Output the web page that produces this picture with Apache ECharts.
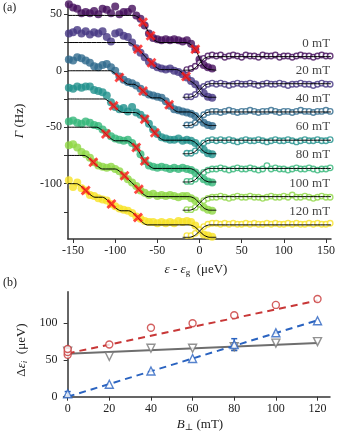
<!DOCTYPE html>
<html>
<head>
<meta charset="utf-8">
<script src="https://cdn.jsdelivr.net/npm/echarts@6/dist/echarts.min.js"></script>
<style>
html,body{margin:0;padding:0;background:#fff;}
#c{width:339px;height:433px;}
</style>
</head>
<body>
<div id="c"></div>
<script>
// ---------- Panel (a) data ----------
const fieldLabels = ['0 mT','20 mT','40 mT','60 mT','80 mT','100 mT','120 mT'];
const traceColors = ['#450f5c','#463783','#2f6a8d','#21918c','#35b779','#8fd744','#f7e225'];

const epsFilled = [-155,-150,-145,-140,-135,-130,-125,-120,-115,-110,-105,-100,-95,-90,-85,-80,-75,-70,-65,-60,-55,-50,-45,-40,-35,-30,-25,-20,-15,-10,-5,0,5,10,15];
const epsOpen = [-15,-10,-5,0,5,10,15,20,25,30,35,40,45,50,55,60,65,70,75,80,85,90,95,100,105,110,115,120,125,130,135,140,145,150,155];

const filled_0mT = [59,56,55,51,52,51,53,50,55,54,51,57,50,52,52,55,49,46,40,33,29,28,27,28,27,28,27,26,27,24,19,10,5,3,2];
const filled_20mT = [33,34,36,33,35,32,34,33,35,30,26,33,34,31,30,25,20,16,12,8,5,3,2,1,2,0,-1,-3,-6,-9,-12,-16,-20,-23,-24];
const filled_40mT = [10,9,12,11,9,7,4,3,5,6,3,0,-5,-8,-10,-11,-13,-16,-19,-21,-22,-23,-24,-27,-31,-34,-35,-36,-37,-38,-40,-43,-46,-48,-49];
const filled_60mT = [-15,-16,-14,-15,-14,-14,-17,-18,-19,-22,-28,-32,-34,-33,-36,-32,-37,-39,-42,-47,-52,-56,-59,-60,-61,-61,-60,-62,-61,-62,-64,-67,-70,-73,-74];
const filled_80mT = [-45,-44,-46,-47,-45,-46,-48,-49,-52,-55,-58,-60,-61,-62,-61,-64,-68,-74,-80,-84,-85,-86,-85,-86,-87,-86,-87,-86,-87,-88,-90,-93,-96,-98,-99];
const filled_100mT = [-66,-65,-68,-72,-74,-77,-81,-84,-85,-86,-85,-87,-89,-93,-96,-99,-102,-106,-108,-110,-109,-111,-110,-111,-110,-111,-112,-111,-111,-113,-115,-118,-121,-123,-124];
const filled_120mT = [-97,-103,-99,-104,-106,-110,-111,-113,-114,-115,-118,-120,-122,-123,-124,-126,-129,-131,-133,-134,-134,-135,-134,-135,-134,-135,-133,-134,-133,-134,-137,-141,-145,-146,-147];

const open_0mT = [1,2,4,7,11,13,14,13,14,12,13,14,13,12,14,13,13,12,14,13,13,14,12,13,13,12,13,14,13,13,12,13,14,13,13];
const open_20mT = [-23,-23,-21,-18,-14,-12,-11,-12,-11,-12,-13,-12,-11,-12,-12,-11,-12,-13,-12,-11,-12,-12,-11,-12,-13,-12,-12,-11,-12,-12,-13,-12,-11,-12,-12];
const open_40mT = [-48,-48,-46,-43,-39,-37,-36,-36,-37,-36,-35,-36,-37,-36,-36,-35,-36,-37,-36,-36,-35,-36,-37,-36,-36,-37,-36,-35,-36,-36,-37,-36,-36,-35,-36];
const open_60mT = [-73,-73,-71,-68,-64,-62,-61,-62,-61,-62,-61,-62,-63,-62,-61,-62,-62,-61,-62,-63,-62,-61,-62,-62,-61,-62,-63,-62,-61,-62,-62,-61,-62,-62,-61];
const open_80mT = [-98,-98,-96,-93,-90,-88,-87,-87,-86,-87,-88,-87,-86,-87,-87,-86,-87,-88,-87,-84,-87,-86,-87,-87,-88,-87,-86,-87,-87,-86,-87,-88,-87,-87,-86];
const open_100mT = [-123,-123,-121,-118,-115,-113,-112,-112,-111,-112,-113,-112,-111,-112,-112,-111,-112,-112,-113,-112,-111,-112,-112,-111,-112,-110,-112,-112,-111,-112,-113,-112,-111,-112,-112];
const open_120mT = [-146,-146,-144,-141,-138,-136,-135,-135,-136,-135,-136,-135,-136,-136,-135,-136,-135,-136,-136,-135,-136,-135,-136,-136,-135,-136,-135,-136,-136,-135,-136,-135,-136,-136,-135];

const fitFilled_0mT = [[-156,49],[-78,49],[-72,47],[-67,43],[-62.5,37],[-58,31],[-53,27],[-47,25],[-16,25],[-10,23],[-5,19],[-2,14.5],[0,11],[3,6.5],[6,3.5],[10,1.5],[20,0.5]];
const fitOpen_0mT = [[-20,0.5],[-12,0.5],[-6,2],[-3,4],[0,6.5],[3,9],[6,11],[12,12.5],[156,12.5]];
const fitFilled_20mT = [[-156,25],[-84,25],[-78,22.5],[-73,19],[-68,15.5],[-65,13],[-62,10.5],[-57,7],[-52,3.5],[-46,1],[-27,1],[-21,-1.5],[-16,-5.25],[-11,-9],[-6,-11.5],[-3,-14],[0,-17.5],[3,-20.5],[6,-22.5],[12,-23.5],[20,-23.5]];
const fitOpen_20mT = [[-20,-23.5],[-12,-23.5],[-6,-22],[-3,-20],[0,-17.5],[3,-15],[6,-13],[12,-11.5],[156,-11.5]];
const fitFilled_40mT = [[-156,0],[-106,0],[-100,-2.5],[-95,-6],[-90,-9.5],[-84,-12],[-78,-12],[-72,-14.5],[-67,-18],[-62,-21.5],[-56,-24],[-47,-24],[-41,-26.5],[-36,-30.25],[-31,-34],[-25,-36.5],[-12,-36.5],[-6,-38],[-3,-40],[0,-42.5],[3,-45],[6,-47],[12,-48.5],[20,-48.5]];
const fitOpen_40mT = [[-20,-48.5],[-12,-48.5],[-6,-47],[-3,-45],[0,-42.5],[3,-40],[6,-38],[12,-36.5],[156,-36.5]];
const fitFilled_60mT = [[-156,-25],[-113,-25],[-107,-27.5],[-102,-31],[-97,-34.5],[-91,-37],[-76,-37],[-70,-39.5],[-65,-43],[-59,-49],[-53,-55.25],[-48,-59],[-42,-61.5],[-12,-61.5],[-6,-63],[-3,-65],[0,-67.5],[3,-70],[6,-72],[12,-73.5],[20,-73.5]];
const fitOpen_60mT = [[-20,-73.5],[-12,-73.5],[-6,-72],[-3,-70],[0,-67.5],[3,-65],[6,-63],[12,-61.5],[156,-61.5]];
const fitFilled_80mT = [[-156,-50],[-122,-50],[-116,-52.5],[-111,-56],[-106,-59.5],[-100,-62],[-86,-62],[-80,-64.5],[-75,-68],[-70,-74],[-65,-80.25],[-60,-84],[-54,-86.5],[-12,-86.5],[-6,-88],[-3,-90],[0,-92.5],[3,-95],[6,-97],[12,-98.5],[20,-98.5]];
const fitOpen_80mT = [[-20,-98.5],[-12,-98.5],[-6,-97],[-3,-95],[0,-92.5],[3,-90],[6,-88],[12,-86.5],[156,-86.5]];
const fitFilled_100mT = [[-156,-75],[-137,-75],[-131,-77.5],[-126,-81],[-121,-84.5],[-115,-87],[-100,-87],[-94,-89.5],[-89,-93],[-84,-96.5],[-80.5,-99],[-77,-101.5],[-72,-105.25],[-67,-109],[-61,-111.5],[-12,-111.5],[-6,-113],[-3,-115],[0,-117.5],[3,-120],[6,-122],[12,-123.5],[20,-123.5]];
const fitOpen_100mT = [[-20,-123.5],[-12,-123.5],[-6,-122],[-3,-120],[0,-117.5],[3,-115],[6,-113],[12,-111.5],[156,-111.5]];
const fitFilled_120mT = [[-156,-100],[-146,-100],[-140,-102.5],[-135,-106],[-130,-109.5],[-124,-112],[-115,-112],[-109.5,-114.5],[-104.5,-118],[-99.5,-121.5],[-93,-124],[-84,-124],[-78,-126.5],[-73,-130.25],[-68,-134],[-62,-136.5],[-12,-136.5],[-6,-138],[-3,-139.8],[0,-142],[3,-144.2],[6,-146],[12,-147.5],[20,-147.5]];
const fitOpen_120mT = [[-20,-147.5],[-12,-147.5],[-6,-146],[-3,-144.2],[0,-142],[3,-139.8],[6,-138],[12,-136.5],[156,-136.5]];

const crosses_0mT = [[-67,43],[-58,31],[-5,19]];
const crosses_20mT = [[-73,19],[-57,7],[-16,-5]];
const crosses_40mT = [[-95,-6],[-67,-18],[-36,-30]];
const crosses_60mT = [[-102,-31],[-65,-43],[-53,-55]];
const crosses_80mT = [[-111,-56],[-75,-68],[-65,-80]];
const crosses_100mT = [[-126,-81],[-89,-93],[-72,-105]];
const crosses_120mT = [[-135,-106],[-104.5,-118],[-73,-130]];

const xTicksA = [-150,-100,-50,0,50,100,150];
const yTicksA = [-125,-100,-75,-50,-25,0,25,50];
const yLabelsA = [-100,-50,0,50];

// ---------- Panel (b) data ----------
const fieldB = [0,20,40,60,80,100,120];
const xTicksB = [0,20,40,60,80,100,120];
const yTicksB = [0,50,100];
const red_field = [0,0,0,20,40,60,80,100,120];
const red_vals = [57,61,65,71,94,100,111,125,133];
const blue_vals = [4,17,35,52,71,87,103.5];
const gray_vals = [62,55,66,66,68,73,75];
const redFit = [[0,59],[120,131]];
const blueFit = [[0,0],[120,104]];
const grayFit = [[0,58.5],[120,73]];
const blueErr = [[80,71,8],[0,4,3]];
const grayErr = [[80,68,5],[0,62,4]];

// ---------- build ----------
const FONT = '"Liberation Serif", "DejaVu Serif", serif';
const filledAll = [filled_0mT,filled_20mT,filled_40mT,filled_60mT,filled_80mT,filled_100mT,filled_120mT];
const openAll = [open_0mT,open_20mT,open_40mT,open_60mT,open_80mT,open_100mT,open_120mT];
const fitFAll = [fitFilled_0mT,fitFilled_20mT,fitFilled_40mT,fitFilled_60mT,fitFilled_80mT,fitFilled_100mT,fitFilled_120mT];
const fitOAll = [fitOpen_0mT,fitOpen_20mT,fitOpen_40mT,fitOpen_60mT,fitOpen_80mT,fitOpen_100mT,fitOpen_120mT];
const crossAll = [crosses_0mT,crosses_20mT,crosses_40mT,crosses_60mT,crosses_80mT,crosses_100mT,crosses_120mT];

const crossPath = 'path://M2,0L5,3L8,0L10,2L7,5L10,8L8,10L5,7L2,10L0,8L3,5L0,2Z';
const series = [];
for (let i = 0; i < 7; i++) {
  series.push({type:'scatter', xAxisIndex:0, yAxisIndex:0, symbol:'circle', symbolSize:8,
    itemStyle:{color:traceColors[i]}, data: epsFilled.map((e,k)=>[e, filledAll[i][k]]), z:2, silent:true});
  series.push({type:'scatter', xAxisIndex:0, yAxisIndex:0, symbol:'circle', symbolSize:5.5,
    itemStyle:{color:'#fff', borderColor:traceColors[i], borderWidth:1.4}, data: epsOpen.map((e,k)=>[e, openAll[i][k]]), z:2, silent:true});
}
for (let i = 0; i < 7; i++) {
  series.push({type:'line', xAxisIndex:0, yAxisIndex:0, data: fitFAll[i], showSymbol:false, smooth:0.3,
    lineStyle:{color:'#000', width:1}, z:3, silent:true});
  series.push({type:'line', xAxisIndex:0, yAxisIndex:0, data: fitOAll[i], showSymbol:false, smooth:0.3,
    lineStyle:{color:'#000', width:1}, z:3, silent:true});
}
for (let i = 0; i < 7; i++) {
  series.push({type:'scatter', xAxisIndex:0, yAxisIndex:0, symbol:crossPath, symbolSize:10,
    itemStyle:{color:'#ff1a1a'}, data: crossAll[i], z:4, silent:true});
  const lvl = fitOAll[i][fitOAll[i].length-1][1];
  series.push({type:'scatter', xAxisIndex:0, yAxisIndex:0, symbolSize:0, data:[[155, lvl + 12]], z:5, silent:true,
    label:{show:true, position:'left', distance:0, formatter: fieldLabels[i], color:'#111', fontFamily:FONT, fontSize:13}});
}

// panel b
function errRender(color){
  return function(params, api){
    const x = api.value(0), y = api.value(1), e = api.value(2);
    const p1 = api.coord([x, y+e]), p2 = api.coord([x, y-e]);
    const st = {stroke:color, lineWidth:1.5};
    return {type:'group', children:[
      {type:'line', shape:{x1:p1[0],y1:p1[1],x2:p2[0],y2:p2[1]}, style:st},
      {type:'line', shape:{x1:p1[0]-3,y1:p1[1],x2:p1[0]+3,y2:p1[1]}, style:st},
      {type:'line', shape:{x1:p2[0]-3,y1:p2[1],x2:p2[0]+3,y2:p2[1]}, style:st}
    ]};
  };
}
series.push({type:'line', xAxisIndex:1, yAxisIndex:1, data:grayFit, showSymbol:false, lineStyle:{color:'#6e6e6e', width:2}, z:2, silent:true});
series.push({type:'line', xAxisIndex:1, yAxisIndex:1, data:redFit, showSymbol:false, lineStyle:{color:'#c83737', width:2, type:[7,5]}, z:2, silent:true});
series.push({type:'line', xAxisIndex:1, yAxisIndex:1, data:blueFit, showSymbol:false, lineStyle:{color:'#2a63c0', width:2, type:[7,5]}, z:2, silent:true});
series.push({type:'custom', xAxisIndex:1, yAxisIndex:1, data:grayErr, renderItem:errRender('#777'), z:3, silent:true});
series.push({type:'custom', xAxisIndex:1, yAxisIndex:1, data:blueErr, renderItem:errRender('#2a63c0'), z:3, silent:true});
series.push({type:'scatter', xAxisIndex:1, yAxisIndex:1, symbol:'triangle', symbolRotate:180, symbolSize:8,
  itemStyle:{color:'#fff', borderColor:'#777', borderWidth:1.4}, data: fieldB.map((b,k)=>[b, gray_vals[k]]), z:4, silent:true});
series.push({type:'scatter', xAxisIndex:1, yAxisIndex:1, symbol:'circle', symbolSize:7,
  itemStyle:{color:'#fff', borderColor:'#c83737', borderWidth:1.4}, data: red_field.map((b,k)=>[b, red_vals[k]]), z:4, silent:true});
series.push({type:'scatter', xAxisIndex:1, yAxisIndex:1, symbol:'triangle', symbolSize:8,
  itemStyle:{color:'#fff', borderColor:'#2a63c0', borderWidth:1.4}, data: fieldB.map((b,k)=>[b, blue_vals[k]]), z:4, silent:true});

const axisLine = {lineStyle:{color:'#333', width:1.5}};
const labelStyle = {color:'#222', fontFamily:FONT, fontSize:12};

const option = {
  animation:false,
  backgroundColor:'#fff',
  grid:[
    {left:68, top:3, width:263, height:236},
    {left:63.5, top:291.7, width:266.5, height:105}
  ],
  xAxis:[
    {type:'value', gridIndex:0, min:-156, max:156, axisLine:{...axisLine, onZero:false},
     axisTick:{customValues:xTicksA, length:4, lineStyle:{color:'#333'}},
     axisLabel:{customValues:xTicksA, ...labelStyle, margin:6}, splitLine:{show:false}},
    {type:'value', gridIndex:1, min:-2, max:126, axisLine:{...axisLine, onZero:false},
     axisTick:{customValues:xTicksB, length:4, lineStyle:{color:'#333'}},
     axisLabel:{customValues:xTicksB, ...labelStyle, margin:6}, splitLine:{show:false}}
  ],
  yAxis:[
    {type:'value', gridIndex:0, min:-149, max:60, axisLine:{...axisLine, onZero:false},
     axisTick:{customValues:yTicksA, length:4, lineStyle:{color:'#333'}},
     axisLabel:{customValues:yLabelsA, ...labelStyle, margin:6}, splitLine:{show:false}},
    {type:'value', gridIndex:1, min:0, max:143, axisLine:{...axisLine, onZero:true},
     axisTick:{customValues:yTicksB, length:4, lineStyle:{color:'#333'}},
     axisLabel:{customValues:yTicksB, ...labelStyle, margin:6}, splitLine:{show:false}}
  ],
  graphic:[
    {type:'text', left:3, top:2, style:{text:'(a)', font:'12px '+FONT, fill:'#222'}},
    {type:'text', left:3, top:277, style:{text:'(b)', font:'12px '+FONT, fill:'#222'}},
    {type:'text', x:196, y:270, style:{
      text:'{i|ε} - {i|ε}{s|g}  (μeV)', align:'center', verticalAlign:'middle', fill:'#222',
      rich:{i:{fontFamily:FONT, fontSize:13, fontStyle:'italic', fill:'#222'}, s:{fontFamily:FONT, fontSize:9, fill:'#222', padding:[6,0,0,0]}},
      fontFamily:FONT, fontSize:13}},
    {type:'text', x:20, y:121, rotation:Math.PI/2, style:{
      text:'{i|Γ} (Hz)', align:'center', verticalAlign:'middle', fill:'#222',
      rich:{i:{fontFamily:FONT, fontSize:13, fontStyle:'italic', fill:'#222'}}, fontFamily:FONT, fontSize:13}},
    {type:'text', x:22, y:350, rotation:Math.PI/2, style:{
      text:'Δ{i|ε}{s|i}  (μeV)', align:'center', verticalAlign:'middle', fill:'#222',
      rich:{i:{fontFamily:FONT, fontSize:13, fontStyle:'italic', fill:'#222'}, s:{fontFamily:FONT, fontSize:9, fontStyle:'italic', fill:'#222', padding:[6,0,0,0]}},
      fontFamily:FONT, fontSize:13}},
    {type:'text', x:200, y:425, style:{
      text:'{i|B}{s|⊥} (mT)', align:'center', verticalAlign:'middle', fill:'#222',
      rich:{i:{fontFamily:FONT, fontSize:13, fontStyle:'italic', fill:'#222'}, s:{fontFamily:FONT, fontSize:9, fill:'#222', padding:[6,0,0,0]}},
      fontFamily:FONT, fontSize:13}}
  ],
  series: series
};
const chart = echarts.init(document.getElementById('c'), null, {renderer:'canvas'});
chart.setOption(option);
</script>
</body>
</html>
